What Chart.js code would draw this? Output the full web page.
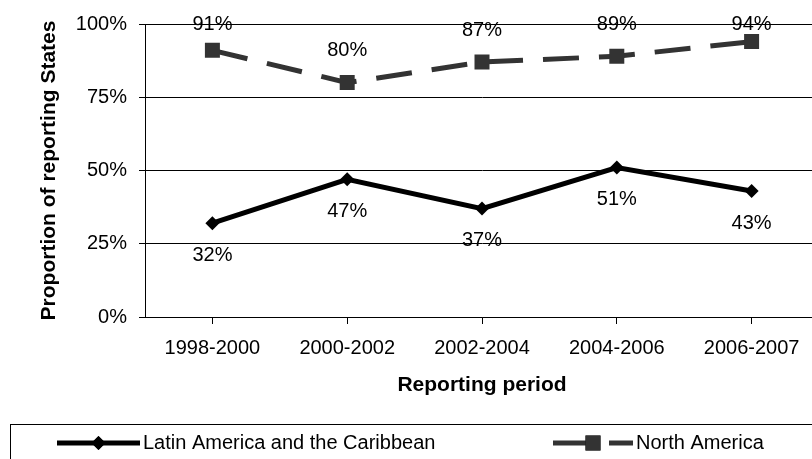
<!DOCTYPE html>
<html>
<head>
<meta charset="utf-8">
<script src="https://cdn.jsdelivr.net/npm/chart.js@4.4.0/dist/chart.umd.min.js"></script>
<style>
  html, body { margin: 0; padding: 0; overflow: hidden; background: #fff; }
  #wrap { width: 830px; height: 480px; }
</style>
</head>
<body>
<div id="wrap"><canvas id="states_chart" width="830" height="480"></canvas></div>
<script>
const periods = ["1998-2000", "2000-2002", "2002-2004", "2004-2006", "2006-2007"];
const latin_america = [32, 47, 37, 51, 43];
const north_america = [91, 80, 87, 89, 94];
const y_min = 0;
const y_max = 100;
const y_step = 25;

const chart_element = document.getElementById("states_chart");

Chart.defaults.font.family = "'Liberation Sans', Arial, sans-serif";
Chart.defaults.font.size = 20;
Chart.defaults.color = "#000";

// value labels: North America above the point, Latin America below
const value_labels = {
    id: "value_labels",
    afterDatasetsDraw(chart) {
        const ctx = chart.ctx;
        ctx.save();
        ctx.font = "20px 'Liberation Sans', Arial, sans-serif";
        ctx.fillStyle = "#000";
        ctx.textAlign = "center";
        ctx.textBaseline = "middle";
        chart.data.datasets.forEach((ds, i) => {
            const meta = chart.getDatasetMeta(i);
            meta.data.forEach((pt, j) => {
                let y = ds.labelAbove ? pt.y - 32 : pt.y + 32;
                y = Math.max(y, chart.chartArea.top);
                ctx.fillText(ds.data[j] + "%", pt.x, y);
            });
        });
        ctx.restore();
    }
};

// legend box under the chart, line sample + marker + text
const line_legend = {
    id: "line_legend",
    afterDraw(chart) {
        const ctx = chart.ctx;
        const y = 443;
        ctx.save();
        ctx.strokeStyle = "#000";
        ctx.lineWidth = 1;
        ctx.strokeRect(10.5, 424.5, 840, 70);

        const items = [
            { ds: chart.data.datasets[0], x0: 57, x1: 140 },
            { ds: chart.data.datasets[1], x0: 553, x1: 633 }
        ];
        items.forEach(item => {
            const ds = item.ds;
            ctx.strokeStyle = ds.borderColor;
            ctx.lineWidth = ds.borderWidth;
            ctx.setLineDash(ds.borderDash || []);
            ctx.beginPath();
            ctx.moveTo(item.x0, y);
            ctx.lineTo(item.x1, y);
            ctx.stroke();
            ctx.setLineDash([]);
            const cx = (item.x0 + item.x1) / 2;
            Chart.helpers.drawPoint(ctx, {
                pointStyle: ds.pointStyle,
                radius: ds.pointRadius,
                borderWidth: 0,
                rotation: 0
            }, cx, y);
            ctx.fillStyle = ds.pointBackgroundColor;
            ctx.fill();
            ctx.fillStyle = "#000";
            ctx.font = "20px 'Liberation Sans', Arial, sans-serif";
            ctx.textAlign = "left";
            ctx.textBaseline = "middle";
            ctx.fillText(ds.label, item.x1 + 3, y);
        });
        ctx.restore();
    }
};

const chart = new Chart(chart_element, {
    type: "line",
    data: {
        labels: periods,
        datasets: [{
            label: "Latin America and the Caribbean",
            data: latin_america,
            borderColor: "#000",
            borderWidth: 5,
            pointStyle: "rectRot",
            pointRadius: 7,
            pointBackgroundColor: "#000",
            pointBorderWidth: 0,
            labelAbove: false
        }, {
            label: "North America",
            data: north_america,
            borderColor: "#333",
            borderWidth: 5,
            borderDash: [36, 20],
            pointStyle: "rect",
            pointRadius: 10.6,
            pointBackgroundColor: "#333",
            pointBorderWidth: 0,
            labelAbove: true
        }]
    },
    options: {
        responsive: false,
        animation: false,
        layout: {
            padding: { top: 20, left: 0, right: 11, bottom: 80 }
        },
        plugins: {
            legend: { display: false },
            tooltip: { enabled: false }
        },
        elements: {
            line: { tension: 0 }
        },
        scales: {
            x: {
                offset: true,
                grid: {
                    drawOnChartArea: false,
                    color: "#000",
                    tickLength: 7
                },
                border: { color: "#000", width: 1 },
                ticks: { padding: 12, maxRotation: 0, font: { size: 20 } },
                title: {
                    display: true,
                    text: "Reporting period",
                    font: { size: 21, weight: "bold", lineHeight: 1.2 },
                    padding: { top: 0, bottom: 2 }
                },
                afterFit(scale) { scale.height = 83; }
            },
            y: {
                min: y_min,
                max: y_max,
                grid: {
                    color: "#000",
                    tickLength: 6
                },
                border: { color: "#000", width: 1 },
                ticks: {
                    stepSize: y_step,
                    padding: 12,
                    font: { size: 20 },
                    callback: (v) => v + "%"
                },
                title: {
                    display: true,
                    text: "Proportion of reporting States",
                    font: { size: 21, weight: "bold", lineHeight: 1.2 },
                    padding: { top: 37, bottom: 0 }
                },
                afterFit(scale) { scale.width = 145; }
            }
        }
    },
    plugins: [value_labels, line_legend]
});
</script>
</body>
</html>
